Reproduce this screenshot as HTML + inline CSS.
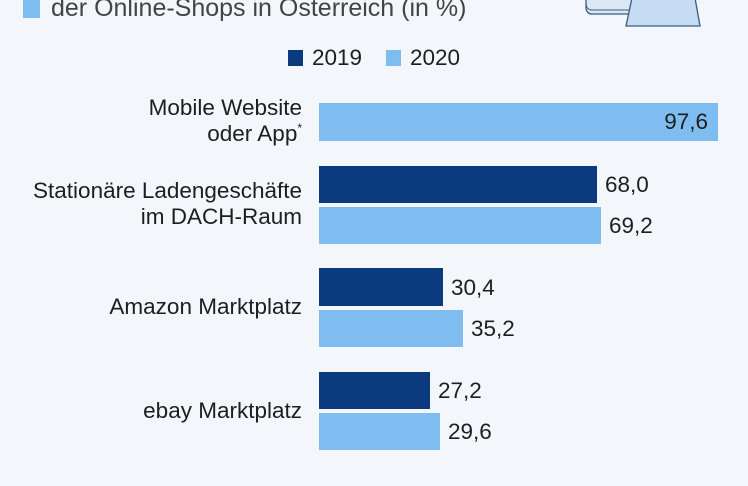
<!DOCTYPE html>
<html><head><meta charset="utf-8"><style>
body{margin:0;width:748px;height:486px;background:#f3f6fa;position:relative;overflow:hidden;font-family:"Liberation Sans",sans-serif;color:#1e1e1e}
.a{position:absolute}
.t{position:absolute;font-size:22.5px;line-height:26px;white-space:nowrap}
.r{transform-origin:right center;text-align:right}
.l{transform-origin:left center}
.d{background:#0b3a7e}.b{background:#7fbdf0}
</style></head><body>
<div class="a b" style="left:23px;top:0;width:17px;height:18px"></div>
<div class="t l" style="left:51px;top:-7px;font-size:25px;line-height:30px;color:#444">der Online-Shops in Österreich (in %)</div>
<svg class="a" style="left:570px;top:0" width="140" height="30">
<path d="M16 -5 V8 a6 6 0 0 0 6 6 H66 a6 6 0 0 0 6 -6 V-5" fill="#dce8f5" stroke="#3a5a85" stroke-width="1.3"/>
<path d="M16 -5 V4 a6 6 0 0 0 6 6 H66 a6 6 0 0 0 6 -6 V-5" fill="none" stroke="#3a5a85" stroke-width="1"/>
<path d="M62 -2 L56 26 H130 L125 -2 Z" fill="#c5dcf2" stroke="#3a5a85" stroke-width="1.3"/>
</svg>
<div class="a d" style="left:288px;top:50px;width:15px;height:16px"></div>
<div class="t l" style="left:312px;top:45px">2019</div>
<div class="a b" style="left:386px;top:50px;width:15px;height:16px"></div>
<div class="t l" style="left:410px;top:45px">2020</div>

<div class="t r" style="right:446px;top:95px">Mobile Website</div>
<div class="t r" style="right:446px;top:121px">oder App<sup style="font-size:12px;vertical-align:9px;line-height:0">*</sup></div>
<div class="a b" style="left:319px;top:103px;width:399px;height:38px"></div>
<div class="t r" style="right:40px;top:109px">97,6</div>

<div class="t r" style="right:446px;top:178px">Stationäre Ladengeschäfte</div>
<div class="t r" style="right:446px;top:204px">im DACH-Raum</div>
<div class="a d" style="left:319px;top:166px;width:278px;height:37px"></div>
<div class="t l" style="left:605px;top:172px">68,0</div>
<div class="a b" style="left:319px;top:207px;width:282px;height:37px"></div>
<div class="t l" style="left:609px;top:213px">69,2</div>

<div class="t r" style="right:446px;top:294px">Amazon Marktplatz</div>
<div class="a d" style="left:319px;top:268px;width:124px;height:38px"></div>
<div class="t l" style="left:451px;top:275px">30,4</div>
<div class="a b" style="left:319px;top:310px;width:144px;height:37px"></div>
<div class="t l" style="left:471px;top:316px">35,2</div>

<div class="t r" style="right:446px;top:398px">ebay Marktplatz</div>
<div class="a d" style="left:319px;top:372px;width:111px;height:37px"></div>
<div class="t l" style="left:438px;top:378px">27,2</div>
<div class="a b" style="left:319px;top:413px;width:121px;height:37px"></div>
<div class="t l" style="left:448px;top:419px">29,6</div>
</body></html>
